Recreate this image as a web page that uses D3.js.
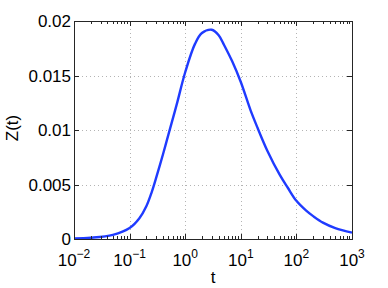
<!DOCTYPE html>
<html>
<head>
<meta charset="utf-8">
<script src="https://cdn.jsdelivr.net/npm/d3@7"></script>
<style>
	body { margin: 0; background: #fff; }
	svg { display: block; }
	text { font-family: "Liberation Sans", Arial, sans-serif; fill: #000; }
</style>
</head>
<body>
<svg id="chart" width="388" height="288"></svg>
<script>
const tValues = [0.01, 0.02, 0.05, 0.1, 0.15, 0.2, 0.25, 0.3, 0.4, 0.5, 0.7, 1, 1.5, 2, 3, 4, 5, 7, 10, 15, 20, 30, 50, 70, 100, 150, 200, 300, 500, 1000];
const zValues = [0.00004, 0.00011, 0.00038, 0.001, 0.0019, 0.003, 0.0043, 0.0056, 0.0078, 0.0096, 0.0123, 0.0153, 0.0179, 0.0189, 0.0192, 0.0187, 0.0178, 0.0163, 0.0144, 0.0118, 0.0102, 0.0081, 0.0059, 0.0047, 0.0035, 0.0026, 0.0021, 0.0015, 0.001, 0.00058];

const xTickExps = [-2, -1, 0, 1, 2, 3];
const yTicks = [0, 0.005, 0.01, 0.015, 0.02];
const yTickLabels = ["0", "0.005", "0.01", "0.015", "0.02"];

const width = 388, height = 288;
const margin = { top: 21, right: 36, bottom: 49, left: 74 };

const svg = d3.select("#chart");

const x = d3.scaleLog()
	.domain([1e-2, 1e3])
	.range([margin.left, width - margin.right]);

const y = d3.scaleLinear()
	.domain([0, 0.02])
	.range([height - margin.bottom, margin.top]);

const data = tValues.map((t, i) => ({ t: t, z: zValues[i] }));

// minor tick positions (2..9 in each decade)
const minorTicks = [];
for (let e = -2; e < 3; e++) {
	for (let k = 2; k <= 9; k++) minorTicks.push(k * Math.pow(10, e));
}

// dotted grid
const grid = svg.append("g")
	.attr("stroke", "#b4b4b4")
	.attr("stroke-width", 1)
	.attr("stroke-dasharray", "1 3");

grid.selectAll(".gx")
	.data(xTickExps.slice(1, -1))
	.join("line")
	.attr("x1", d => Math.round(x(Math.pow(10, d))) + 0.5)
	.attr("x2", d => Math.round(x(Math.pow(10, d))) + 0.5)
	.attr("y1", margin.top)
	.attr("y2", height - margin.bottom);

grid.selectAll(".gy")
	.data(yTicks.slice(1, -1))
	.join("line")
	.attr("x1", margin.left)
	.attr("x2", width - margin.right)
	.attr("y1", d => Math.round(y(d)) + 0.5)
	.attr("y2", d => Math.round(y(d)) + 0.5);

// curve
const line = d3.line()
	.x(d => x(d.t))
	.y(d => y(d.z))
	.curve(d3.curveCatmullRom.alpha(0.5));

svg.append("path")
	.datum(data)
	.attr("fill", "none")
	.attr("stroke", "#1f3bff")
	.attr("stroke-width", 2.4)
	.attr("d", line);

// axes box with inward ticks
const axisColor = "#262626";
const x0 = margin.left, x1 = width - margin.right;
const y0 = height - margin.bottom, y1 = margin.top;

const ticks = svg.append("g")
	.attr("stroke", axisColor)
	.attr("stroke-width", 1);

// major x ticks (bottom and top)
xTickExps.forEach(e => {
	const px = Math.round(x(Math.pow(10, e))) + 0.5;
	ticks.append("line").attr("x1", px).attr("x2", px).attr("y1", y0).attr("y2", y0 - 5);
	ticks.append("line").attr("x1", px).attr("x2", px).attr("y1", y1).attr("y2", y1 + 5);
});

// minor x ticks
minorTicks.forEach(t => {
	const px = Math.round(x(t)) + 0.5;
	ticks.append("line").attr("x1", px).attr("x2", px).attr("y1", y0).attr("y2", y0 - 3);
	ticks.append("line").attr("x1", px).attr("x2", px).attr("y1", y1).attr("y2", y1 + 3);
});

// y ticks (left and right)
yTicks.forEach(v => {
	const py = Math.round(y(v)) + 0.5;
	ticks.append("line").attr("x1", x0).attr("x2", x0 + 5).attr("y1", py).attr("y2", py);
	ticks.append("line").attr("x1", x1).attr("x2", x1 - 5).attr("y1", py).attr("y2", py);
});

svg.append("rect")
	.attr("x", x0 + 0.5)
	.attr("y", y1 + 0.5)
	.attr("width", x1 - x0)
	.attr("height", y0 - y1)
	.attr("fill", "none")
	.attr("stroke", axisColor)
	.attr("stroke-width", 1);

// y tick labels
svg.selectAll(".ylab")
	.data(yTicks)
	.join("text")
	.attr("x", x0 - 3)
	.attr("y", d => y(d))
	.attr("dy", "0.36em")
	.attr("text-anchor", "end")
	.attr("font-size", "17px")
	.text((d, i) => yTickLabels[i]);

// x tick labels: 10^e
const xLab = svg.selectAll(".xlab")
	.data(xTickExps)
	.join("text")
	.attr("x", d => x(Math.pow(10, d)))
	.attr("y", y0 + 27)
	.attr("text-anchor", "middle")
	.attr("font-size", "17px");

xLab.append("tspan").text("10");
xLab.append("tspan")
	.attr("dy", -8)
	.attr("font-size", "12px")
	.text(d => d < 0 ? "\u2212" + (-d) : String(d));

// axis titles
svg.append("text")
	.attr("x", (x0 + x1) / 2)
	.attr("y", height - 5)
	.attr("text-anchor", "middle")
	.attr("font-size", "17px")
	.text("t");

svg.append("text")
	.attr("transform", `translate(18,${(y0 + y1) / 2 - 2}) rotate(-90)`)
	.attr("text-anchor", "middle")
	.attr("font-size", "17px")
	.text("Z(t)");
</script>
</body>
</html>
